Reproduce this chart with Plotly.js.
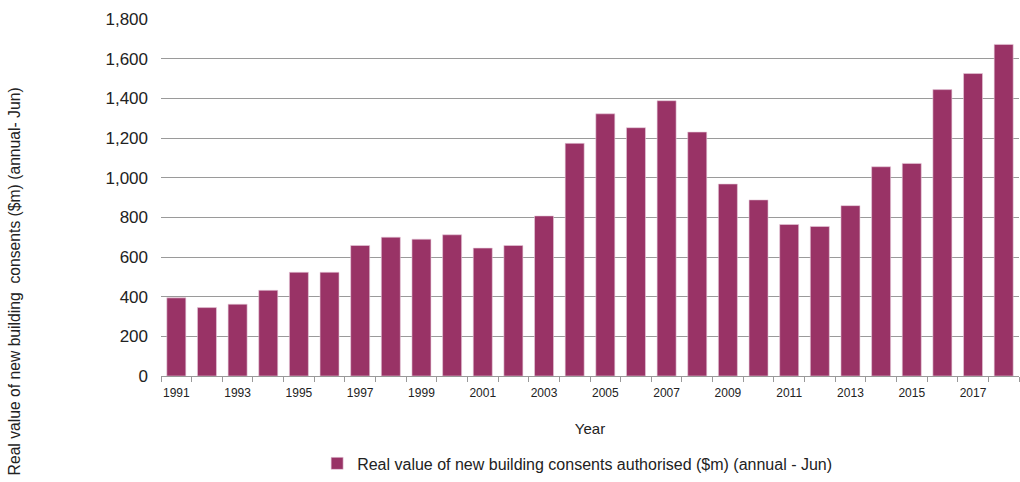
<!DOCTYPE html>
<html>
<head>
<meta charset="utf-8">
<script src="https://cdn.plot.ly/plotly-3.0.1.min.js"></script>
<style>html,body{margin:0;padding:0;background:#fff}#chart{width:1020px;height:482px}</style>
</head>
<body>
<div id="chart"></div>
<script>
var years = [1991,1992,1993,1994,1995,1996,1997,1998,1999,2000,2001,2002,2003,2004,2005,2006,2007,2008,2009,2010,2011,2012,2013,2014,2015,2016,2017,2018];
var values = [394,345,362,432,523,523,658,700,690,712,645,658,807,1173,1322,1252,1388,1230,968,888,764,754,859,1055,1072,1444,1525,1672];
var xTickYears = [1991,1993,1995,1997,1999,2001,2003,2005,2007,2009,2011,2013,2015,2017];
var yTickVals = [0,200,400,600,800,1000,1200,1400,1600,1800];
var yTickText = ["0","200","400","600","800","1,000","1,200","1,400","1,600","1,800"];
var seriesName = "Real value of new building consents authorised ($m) (annual - Jun)";
var yTitle = "Real value of new building  consents ($m) (annual- Jun)";

var font = "Liberation Sans, Arial, sans-serif";
var trace = {
  type: "bar",
  x: years,
  y: values,
  name: seriesName,
  marker: {color: "#993366", line: {color: "#e8cddb", width: 0.6}},
  width: 0.62,
  showlegend: true,
  hoverinfo: "x+y"
};
var layout = {
  width: 1020, height: 482,
  margin: {l: 161, r: 1, t: 19, b: 104},
  paper_bgcolor: "#fff", plot_bgcolor: "#fff",
  font: {family: font, color: "#222"},
  bargap: 0.38,
  xaxis: {
    type: "linear",
    range: [1990.5, 2018.5],
    tickvals: xTickYears,
    ticktext: xTickYears.map(String),
    ticks: "",
    ticklabelstandoff: 6,
    tickfont: {size: 12, color: "#222"},
    showgrid: false, zeroline: false,
    showline: true, linecolor: "#999", linewidth: 1,
    minor: {tick0: 1990.5, dtick: 1, ticks: "outside", ticklen: 5, tickcolor: "#999", showgrid: false},
    title: {text: "Year", font: {size: 15, color: "#222"}, standoff: 24}
  },
  yaxis: {
    range: [0, 1800],
    tickvals: yTickVals,
    ticktext: yTickText,
    tickfont: {size: 17, color: "#222"},
    ticklabelstandoff: 12,
    showgrid: true, gridcolor: "#9a9a9a", gridwidth: 1,
    zeroline: false, showline: false, ticks: ""
  },
  annotations: [{
    text: yTitle, textangle: -90, showarrow: false,
    xref: "paper", yref: "paper", x: -0.1713, y: 0.265,
    xanchor: "center", yanchor: "middle",
    font: {size: 15.7, color: "#222", family: font}
  }],
  showlegend: true,
  legend: {
    orientation: "h", x: 0.485, xanchor: "center", y: -0.245, yanchor: "middle",
    font: {size: 16, color: "#222"}, itemwidth: 30, traceorder: "normal"
  }
};
Plotly.newPlot("chart", [trace], layout, {staticPlot: true, displayModeBar: false});
</script>
</body>
</html>
